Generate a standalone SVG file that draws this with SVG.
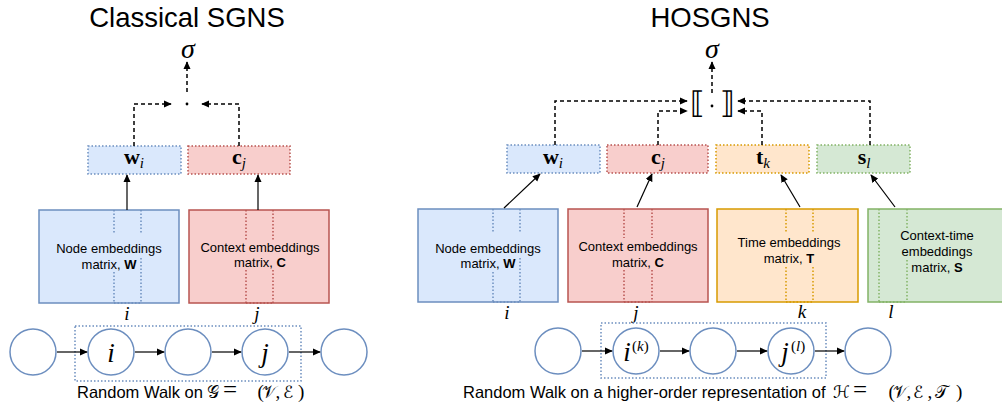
<svg xmlns="http://www.w3.org/2000/svg" width="1002" height="408" viewBox="0 0 1002 408">
<defs>
<marker id="ah" viewBox="0 0 10 10" refX="9" refY="5" markerWidth="8" markerHeight="8" markerUnits="userSpaceOnUse" orient="auto"><path d="M0,0.5 L10,5 L0,9.5 Z" fill="#000"/></marker>
<style>
.title{font-family:"Liberation Sans",Arial,sans-serif;font-size:27.5px;fill:#000}
.lbl{font-family:"Liberation Sans",Arial,sans-serif;font-size:13px;fill:#000;text-anchor:middle}
.cap{font-family:"Liberation Sans",Arial,sans-serif;font-size:16.5px;fill:#000}
.math{font-family:"Liberation Serif","DejaVu Serif",serif;font-style:italic;fill:#000}
.rm{font-family:"Liberation Serif","DejaVu Serif",serif;font-style:normal;fill:#000}
.cal{font-family:"DejaVu Serif","DejaVu Sans",serif;font-style:normal;font-size:17px}
.eq{font-size:25px}
.brk{font-family:"DejaVu Sans",sans-serif;font-weight:200;font-style:normal;fill:#000;text-anchor:middle}
.vec{font-family:"Liberation Serif","DejaVu Serif",serif;font-weight:bold;font-size:22px;fill:#000;text-anchor:middle}
.sub{font-style:italic;font-weight:normal;font-size:15px}
.dash{fill:none;stroke:#000;stroke-width:1.5;stroke-dasharray:4 3}
.solid{fill:none;stroke:#000;stroke-width:1.2}
.blue{fill:#dae8fc;stroke:#6c8ebf}
.red{fill:#f8cecc;stroke:#b85450}
.orange{fill:#ffe6cc;stroke:#d79b00}
.green{fill:#d5e8d4;stroke:#82b366}
.mat{stroke-width:1.5}
.dot{stroke-width:1.5;stroke-dasharray:1.5 2}
.col{fill:none;stroke-width:1.5;stroke-dasharray:1.5 2}
.circ{fill:#fff;stroke:#6c8ebf;stroke-width:1.5}
.walk{fill:none;stroke:#6c8ebf;stroke-width:1.5;stroke-dasharray:1.5 2}
</style>
</defs>

<text class="title" x="187" y="27" text-anchor="middle">Classical SGNS</text>
<text class="title" x="710" y="27" text-anchor="middle">HOSGNS</text>

<g id="sigma-left"><text class="math" x="188" y="58" font-size="28" text-anchor="middle">σ</text></g>
<g id="sigma-right"><text class="math" x="712" y="58" font-size="28" text-anchor="middle">σ</text></g>
<g id="dot-left"><circle cx="187" cy="104" r="1.4" fill="#000"/></g>
<g id="bracket-right">
<text class="brk" x="697" y="113" font-size="30">⟦</text>
<circle cx="712" cy="106" r="1.4" fill="#000"/>
<text class="brk" x="727" y="113" font-size="30">⟧</text>
</g>

<!-- small embedding boxes -->
<g id="wi-left"><rect class="blue dot" x="88" y="146" width="93" height="28"/><text class="vec" x="134" y="164">w<tspan class="sub" dy="4">i</tspan></text></g>
<g id="cj-left"><rect class="red dot" x="188" y="146" width="102" height="28"/><text class="vec" x="239" y="164">c<tspan class="sub" dy="4">j</tspan></text></g>
<g id="wi-right"><rect class="blue dot" x="507" y="145" width="93" height="28"/><text class="vec" x="553" y="164">w<tspan class="sub" dy="4">i</tspan></text></g>
<g id="cj-right"><rect class="red dot" x="607" y="145" width="101" height="28"/><text class="vec" x="658" y="164">c<tspan class="sub" dy="4">j</tspan></text></g>
<g id="tk-right"><rect class="orange dot" x="716" y="145" width="93" height="28"/><text class="vec" x="763" y="164">t<tspan class="sub" dy="4">k</tspan></text></g>
<g id="sl-right"><rect class="green dot" x="817" y="145" width="93" height="28"/><text class="vec" x="864" y="164">s<tspan class="sub" dy="4">l</tspan></text></g>

<!-- matrices -->
<g id="W-left">
<rect class="blue mat" x="39" y="210" width="140" height="93"/>
<path class="col" stroke="#6c8ebf" d="M114,210V234M114,272V303M141,210V234M141,258V303M114,303H141"/>
<text class="lbl" x="109" y="253">Node embeddings</text>
<text class="lbl" x="109" y="269">matrix, <tspan font-weight="bold">W</tspan></text>
</g>
<g id="C-left">
<rect class="red mat" x="189" y="210" width="140" height="93"/>
<path class="col" stroke="#b85450" d="M246,210V240M246,270V303M273,210V240M273,270V303M246,303H273"/>
<text class="lbl" x="260" y="252">Context embeddings</text>
<text class="lbl" x="260" y="267">matrix, <tspan font-weight="bold">C</tspan></text>
</g>
<g id="W-right">
<rect class="blue mat" x="418" y="209" width="140" height="93"/>
<path class="col" stroke="#6c8ebf" d="M493,209V233M493,272V302M520,209V233M520,258V302M493,302H520"/>
<text class="lbl" x="488" y="253">Node embeddings</text>
<text class="lbl" x="488" y="268">matrix, <tspan font-weight="bold">W</tspan></text>
</g>
<g id="C-right">
<rect class="red mat" x="568" y="209" width="140" height="93"/>
<path class="col" stroke="#b85450" d="M624,209V238M624,270V302M652,209V238M652,270V302M624,302H652"/>
<text class="lbl" x="638" y="251">Context embeddings</text>
<text class="lbl" x="638" y="267">matrix, <tspan font-weight="bold">C</tspan></text>
</g>
<g id="T-right">
<rect class="orange mat" x="717" y="209" width="141" height="93"/>
<path class="col" stroke="#d79b00" d="M786,209V233M786,267V302M813,209V233M813,267V302M786,302H813"/>
<text class="lbl" x="789" y="247">Time embeddings</text>
<text class="lbl" x="789" y="263">matrix, <tspan font-weight="bold">T</tspan></text>
</g>
<g id="S-right">
<rect class="green mat" x="868" y="209" width="142" height="93"/>
<path class="col" stroke="#82b366" d="M879,209V302M907,209V230M907,260V302M879,302H907"/>
<text class="lbl" x="937" y="240">Context-time</text>
<text class="lbl" x="937" y="256">embeddings</text>
<text class="lbl" x="937" y="272">matrix, <tspan font-weight="bold">S</tspan></text>
</g>

<!-- index labels -->
<g id="idx">
<text class="math" font-size="19" x="127" y="320" text-anchor="middle">i</text>
<text class="math" font-size="19" x="257" y="320" text-anchor="middle">j</text>
<text class="math" font-size="19" x="507" y="319" text-anchor="middle">i</text>
<text class="math" font-size="19" x="636" y="319" text-anchor="middle">j</text>
<text class="math" font-size="19" x="802" y="318" text-anchor="middle">k</text>
<text class="math" font-size="19" x="891" y="318" text-anchor="middle">l</text>
</g>

<!-- walks -->
<g id="walk-box-left"><rect class="walk" x="75" y="326" width="226" height="55"/></g>
<g id="walk-box-right"><rect class="walk" x="601" y="323" width="225" height="55"/></g>
<g id="n1"><circle class="circ" cx="33" cy="352" r="23"/></g>
<g id="n2"><circle class="circ" cx="111" cy="352" r="23"/><text class="math" font-size="27" x="111" y="362" text-anchor="middle">i</text></g>
<g id="n3"><circle class="circ" cx="188" cy="352" r="23"/></g>
<g id="n4"><circle class="circ" cx="265" cy="352" r="23"/><text class="math" font-size="27" x="265" y="362" text-anchor="middle">j</text></g>
<g id="n5"><circle class="circ" cx="344" cy="352" r="23"/></g>
<g id="m1"><circle class="circ" cx="558" cy="351" r="23"/></g>
<g id="m2"><circle class="circ" cx="636" cy="351" r="23"/>
<text class="math" font-size="27" x="627" y="361" text-anchor="middle">i</text>
<text class="rm" font-size="15" x="632" y="351">(<tspan class="math">k</tspan>)</text></g>
<g id="m3"><circle class="circ" cx="713" cy="351" r="23"/></g>
<g id="m4"><circle class="circ" cx="791" cy="351" r="23"/>
<text class="math" font-size="27" x="785" y="361" text-anchor="middle">j</text>
<text class="rm" font-size="15" x="791" y="351">(<tspan class="math">l</tspan>)</text></g>
<g id="m5"><circle class="circ" cx="868" cy="351" r="23"/></g>

<!-- captions -->
<text class="cap" x="77" y="398">Random Walk on</text>
<text class="rm" id="math-left" y="398" font-size="19"><tspan class="cal" x="207">𝒢</tspan><tspan class="eq" x="223">=</tspan><tspan x="257.5">(</tspan><tspan class="cal" x="262">𝒱</tspan><tspan x="275.5">,</tspan><tspan class="cal" x="283">ℰ</tspan><tspan x="298">)</tspan></text>
<text class="cap" x="463" y="398">Random Walk on a higher-order representation of</text>
<text class="rm" id="math-right" y="398" font-size="19"><tspan class="cal" x="833">ℋ</tspan><tspan class="eq" x="853">=</tspan><tspan x="888.5">(</tspan><tspan class="cal" x="893">𝒱</tspan><tspan x="906.5">,</tspan><tspan class="cal" x="913">ℰ</tspan><tspan x="927.5">,</tspan><tspan class="cal" x="935">𝒯</tspan><tspan x="956">)</tspan></text>

<!-- connectors -->
<g id="connectors">
<path class="dash" marker-end="url(#ah)" d="M187,92V62"/>
<path class="dash" marker-end="url(#ah)" d="M134,146V104H171"/>
<path class="dash" marker-end="url(#ah)" d="M239,146V104H202"/>
<path class="solid" marker-end="url(#ah)" d="M127,210V175"/>
<path class="solid" marker-end="url(#ah)" d="M258,210V175"/>

<path class="dash" marker-end="url(#ah)" d="M712,93V62"/>
<path class="dash" marker-end="url(#ah)" d="M555,145V101H687"/>
<path class="dash" marker-end="url(#ah)" d="M658,145V111H687"/>
<path class="dash" marker-end="url(#ah)" d="M762,145V111H738"/>
<path class="dash" marker-end="url(#ah)" d="M870,145V101H738"/>
<path class="solid" marker-end="url(#ah)" d="M504,208L540,174"/>
<path class="solid" marker-end="url(#ah)" d="M637,207L652,174"/>
<path class="solid" marker-end="url(#ah)" d="M800,207L781,175"/>
<path class="solid" marker-end="url(#ah)" d="M895,207L871,175"/>

<path class="solid" marker-end="url(#ah)" d="M57,352H87"/>
<path class="solid" marker-end="url(#ah)" d="M135,352H164"/>
<path class="solid" marker-end="url(#ah)" d="M212,352H241"/>
<path class="solid" marker-end="url(#ah)" d="M289,352H320"/>
<path class="solid" marker-end="url(#ah)" d="M582,351H612"/>
<path class="solid" marker-end="url(#ah)" d="M660,351H689"/>
<path class="solid" marker-end="url(#ah)" d="M737,351H767"/>
<path class="solid" marker-end="url(#ah)" d="M815,351H844"/>
</g>
</svg>
